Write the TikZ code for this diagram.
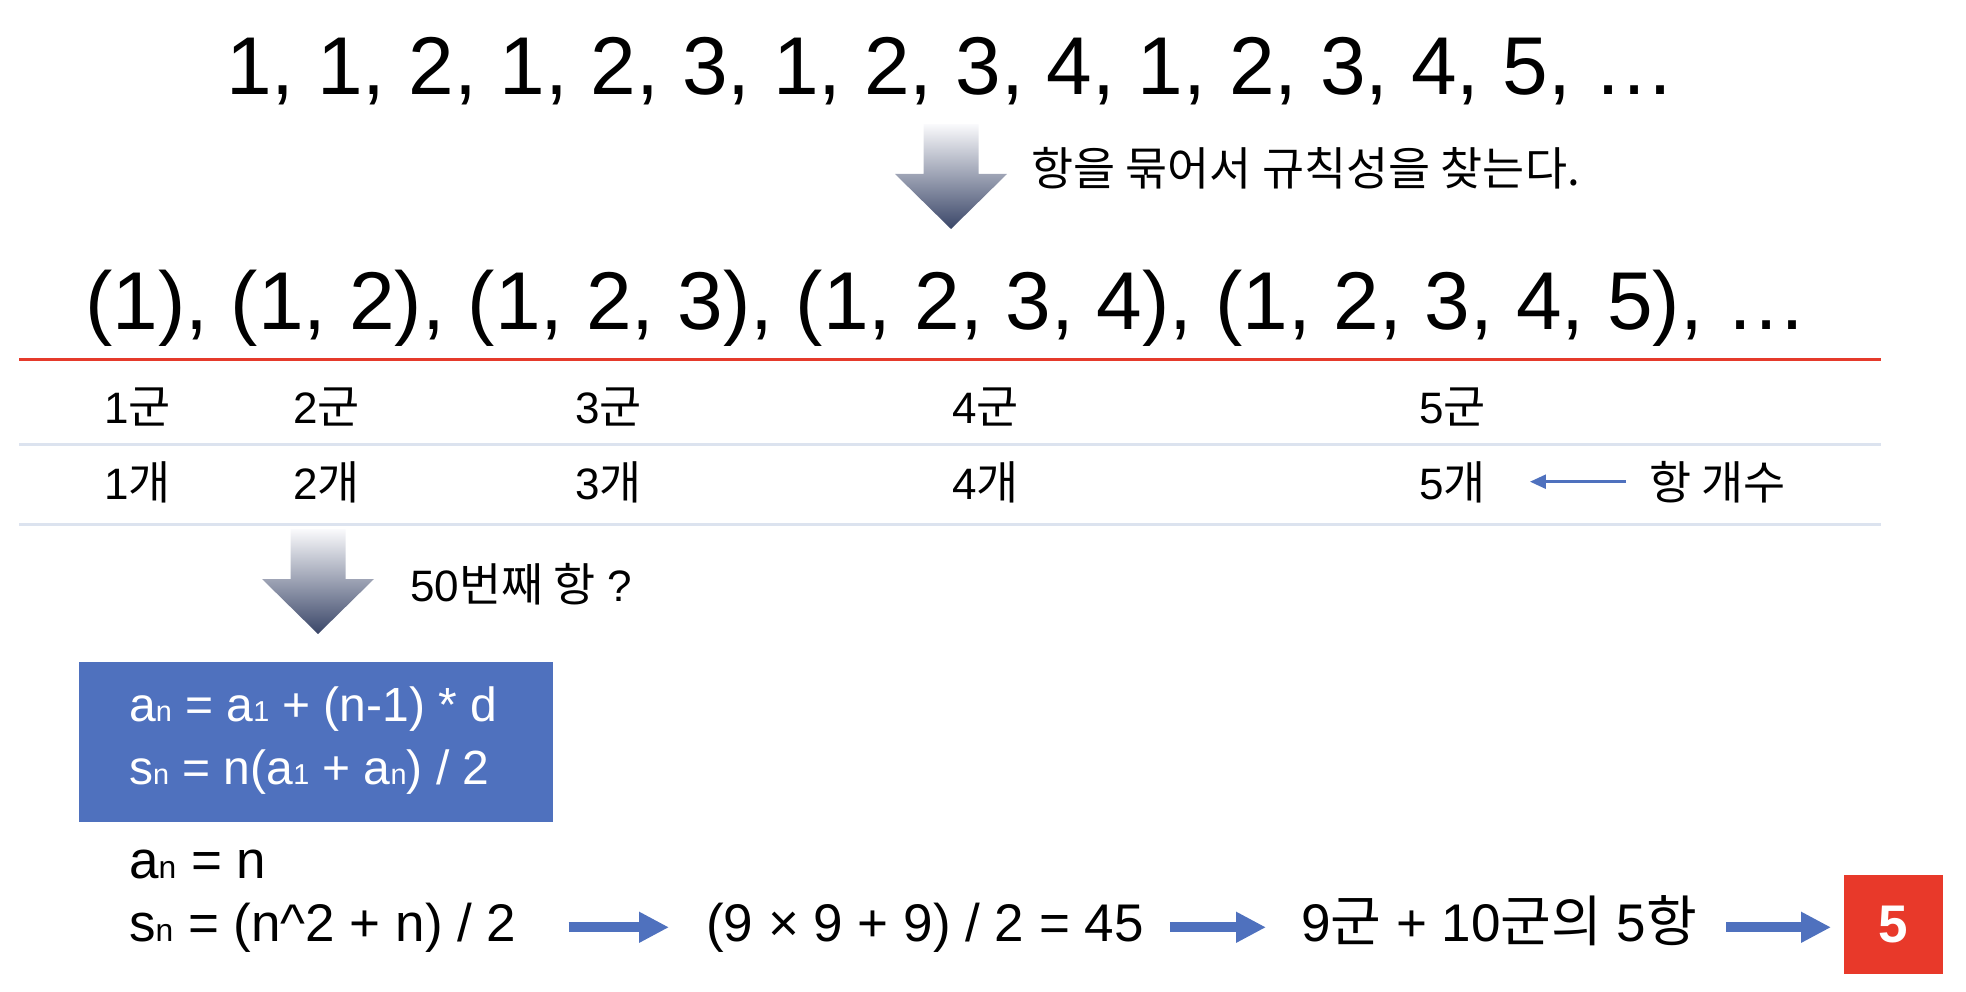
\documentclass[tikz,border=0pt]{standalone}
\usepackage{fontspec}
\setmainfont{Liberation Sans}
\newfontfamily\kr[Scale=1.04]{Noto Sans CJK KR}
\usetikzlibrary{arrows.meta}
\usetikzlibrary{positioning}

\definecolor{lineRed}{HTML}{E53A2B}
\definecolor{rowGray}{HTML}{DCE3EF}
\definecolor{boxBlue}{HTML}{4F71BE}
\definecolor{ansRed}{HTML}{E8392A}
\definecolor{arrTop}{HTML}{FAFAFC}
\definecolor{arrBot}{HTML}{3A4668}

\newcommand\ko[1]{{\kr #1}}
\newcommand\lo[1]{\scalebox{0.6}{#1}}

\tikzset{
	big/.style={font=\fontsize{82}{90}\selectfont, inner sep=0, anchor=base west},
	mid/.style={font=\fontsize{53}{60}\selectfont, inner sep=0, anchor=base west},
	txt/.style={font=\fontsize{44}{50}\selectfont, inner sep=0, anchor=base west},
	form/.style={font=\fontsize{48}{56}\selectfont, inner sep=0, anchor=base west, text=white},
	gradarr/.style={top color=arrTop, bottom color=arrBot, draw=none},
	blockarr/.style={draw=boxBlue, line width=10pt, -{Triangle[length=30pt,width=29pt]}},
}

\begin{document}
\begin{tikzpicture}[x=1pt,y=-1pt]
		\useasboundingbox (0,0) rectangle (1966,992);
		% sequence and grouping
		\node[big] (seq) at (226,95) {1, 1, 2, 1, 2, 3, 1, 2, 3, 4, 1, 2, 3, 4, 5, …};
		\node[big] (grp) at (85,330) {(1), (1, 2), (1, 2, 3), (1, 2, 3, 4), (1, 2, 3, 4, 5), …};
		\node[txt] (hint) at (1031,186) {\ko{항을 묶어서 규칙성을 찾는다.}};
		% down arrows
		\foreach \x/\y in {951/124, 318/529}
			\shade[gradarr] (\x-27.5,\y) -- (\x+27.5,\y) -- (\x+27.5,\y+50) -- (\x+56,\y+50)
				-- (\x,\y+105) -- (\x-56,\y+50) -- (\x-27.5,\y+50) -- cycle;
		% table rules
		\draw[lineRed, line width=3pt] (19,360) -- (1881,360);
		\draw[rowGray, line width=3pt] (19,444) -- (1881,444);
		\draw[rowGray, line width=3pt] (19,524) -- (1881,524);
		\foreach \n/\x in {1/104, 2/293, 3/575, 4/952, 5/1419} {
			\node[txt] (g\n) at (\x,423) {\n\ko{군}};
			\node[txt] (c\n) at (\x,499) {\n\ko{개}};
		}
		\node[txt] (cnt) at (1649,499) {\ko{항 개수}};
		\draw[boxBlue, line width=2.5pt, -{Triangle[length=16pt,width=14pt]}, shorten <=23pt, shorten >=44pt]
			(cnt.west) -- (cnt.west -| c5.east);
		\node[txt] (q50) at (410,601) {50\ko{번째 항} ?};
		% formulas
		\node[fill=boxBlue, minimum width=474pt, minimum height=160pt, anchor=north west, inner sep=0] (fbox) at (79,662) {};
		\node[form] (f1) at (129,721) {a\lo{n} = a\lo{1} + (n-1) * d};
		\node[form] (f2) at (129,784) {s\lo{n} = n(a\lo{1} + a\lo{n}) / 2};
		\node[mid] (an) at (129,878) {a\lo{n} = n};
		\node[mid] (sn) at (129,941) {s\lo{n} = (n\textasciicircum2 + n) / 2};
		\node[mid] (calc) at (706,941) {(9 × 9 + 9) / 2 = 45};
		\node[mid] (grp9) at (1301,941) {9\ko{군} + 10\ko{군의} 5\ko{항}};
		\node[fill=ansRed, text=white, font=\fontsize{53}{60}\selectfont\bfseries, minimum width=99pt, minimum height=99pt,
			inner sep=0, anchor=north west] (ans) at (1844,875) {5};
		% chain
		\draw[blockarr, shorten <=52pt, shorten >=37pt] (sn.east) -- (sn.east -| calc.west);
		\draw[blockarr, shorten <=26pt, shorten >=35pt] (calc.east) -- (calc.east -| grp9.west);
		\draw[blockarr, shorten <=29pt, shorten >=13pt] (calc.east -| grp9.east) -- (calc.east -| ans.west);
	\end{tikzpicture}
\end{document}
